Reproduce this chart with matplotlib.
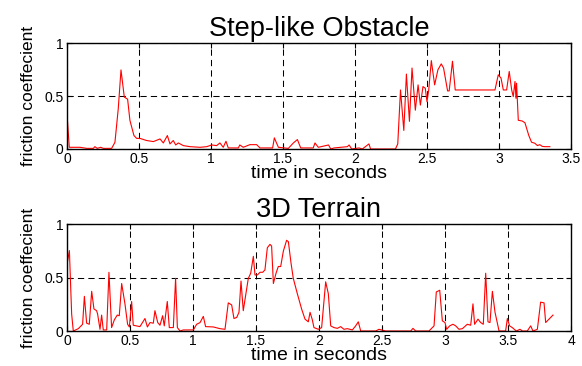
import matplotlib
matplotlib.use("Agg")
import matplotlib.pyplot as plt

# Step-like obstacle run (time in s, friction coefficient)
step_t = [0, 0.016, 0.09, 0.137, 0.183, 0.194, 0.21, 0.234, 0.252, 0.31, 0.333, 0.356,
          0.375, 0.398, 0.421, 0.437, 0.465, 0.484, 0.507, 0.553, 0.60, 0.646, 0.669,
          0.697, 0.715, 0.738, 0.755, 0.773, 0.808, 0.854, 0.924, 0.97, 1.005, 1.039,
          1.062, 1.085, 1.104, 1.12, 1.19, 1.2, 1.224, 1.27, 1.317, 1.34, 1.428, 1.44,
          1.468, 1.537, 1.572, 1.6, 1.623, 1.71, 1.722, 1.745, 1.816, 1.832, 1.855,
          1.947, 1.959, 1.977, 2.028, 2.051, 2.097, 2.108, 2.281, 2.297, 2.316, 2.339,
          2.357, 2.378, 2.396, 2.419, 2.438, 2.454, 2.472, 2.488, 2.5, 2.512, 2.53,
          2.553, 2.576, 2.599, 2.615, 2.643, 2.654, 2.677, 2.696, 2.972, 2.995, 3.014,
          3.03, 3.053, 3.071, 3.088, 3.099, 3.111, 3.118, 3.122, 3.134, 3.161, 3.18,
          3.207, 3.226, 3.249, 3.267, 3.283, 3.3, 3.318, 3.353]
step_mu = [0.333, 0.016, 0.016, 0.006, 0.006, 0.022, 0.006, 0.016, 0.006, 0.006, 0.063, 0.38,
           0.746, 0.49, 0.47, 0.27, 0.127, 0.10, 0.10, 0.08, 0.07, 0.095, 0.057,
           0.127, 0.048, 0.08, 0.038, 0.057, 0.032, 0.022, 0.016, 0.022, 0.038, 0.032,
           0.057, 0.016, 0.073, 0.01, 0.01, 0.038, 0.016, 0.041, 0.041, 0.01, 0.01, 0.105,
           0.016, 0.006, 0.057, 0.089, 0.01, 0.01, 0.057, 0.016, 0.038, 0.0, 0.01,
           0.022, 0.038, 0.0, 0.01, 0.0, 0.048, 0.0, 0.0, 0.048, 0.557, 0.175,
           0.707, 0.261, 0.764, 0.366, 0.605, 0.414, 0.589, 0.573, 0.446, 0.557, 0.834,
           0.605, 0.748, 0.803, 0.764, 0.548, 0.548, 0.828, 0.557, 0.557, 0.70, 0.669,
           0.557, 0.557, 0.732, 0.557, 0.494, 0.637, 0.478, 0.621, 0.271, 0.264, 0.248,
           0.127, 0.064, 0.054, 0.032, 0.041, 0.025, 0.022, 0.022]

# 3D terrain run
terr_t = [0, 0.019, 0.037, 0.05, 0.09, 0.124, 0.138, 0.156, 0.177, 0.196, 0.214, 0.235,
          0.243, 0.262, 0.275, 0.288, 0.315, 0.333, 0.354, 0.376, 0.399, 0.415, 0.434,
          0.46, 0.481, 0.495, 0.513, 0.526, 0.579, 0.619, 0.638, 0.659, 0.685, 0.698,
          0.72, 0.738, 0.759, 0.772, 0.796, 0.812, 0.844, 0.862, 0.876, 0.897, 0.923,
          1.003, 1.029, 1.056, 1.082, 1.1, 1.161, 1.214, 1.254, 1.28, 1.307, 1.325,
          1.347, 1.365, 1.381, 1.399, 1.418, 1.439, 1.458, 1.479, 1.492, 1.511, 1.532,
          1.553, 1.571, 1.59, 1.611, 1.624, 1.638, 1.659, 1.677, 1.696, 1.717, 1.743,
          1.757, 1.778, 1.796, 1.828, 1.862, 1.889, 1.915, 1.929, 1.947, 1.96, 1.995,
          2.021, 2.053, 2.074, 2.093, 2.119, 2.146, 2.172, 2.198, 2.225, 2.265, 2.291,
          2.312, 2.331, 2.45, 2.476, 2.529, 2.728, 2.746, 2.767, 2.873, 2.913, 2.931,
          2.958, 2.979, 3.0, 3.013, 3.037, 3.063, 3.085, 3.111, 3.138, 3.177, 3.204,
          3.222, 3.235, 3.262, 3.283, 3.304, 3.323, 3.341, 3.357, 3.376, 3.397, 3.429,
          3.481, 3.495, 3.513, 3.534, 3.566, 3.595, 3.614, 3.653, 3.68, 3.698, 3.733,
          3.759, 3.786, 3.799, 3.825, 3.857]
terr_mu = [0.62, 0.752, 0.159, 0.0, 0.022, 0.063, 0.324, 0.073, 0.063, 0.371, 0.206, 0.19,
           0.159, 0.016, 0.149, 0.01, 0.01, 0.549, 0.032, 0.105, 0.149, 0.143, 0.444,
           0.254, 0.063, 0.038, 0.276, 0.054, 0.041, 0.117, 0.038, 0.079, 0.073, 0.19,
           0.079, 0.054, 0.143, 0.048, 0.276, 0.032, 0.032, 0.492, 0.032, 0.0, 0.01,
           0.01, 0.063, 0.079, 0.137, 0.041, 0.038, 0.022, 0.016, 0.263, 0.244, 0.117,
           0.127, 0.175, 0.467, 0.19, 0.333, 0.492, 0.54, 0.698, 0.524, 0.524, 0.549,
           0.549, 0.571, 0.778, 0.81, 0.794, 0.444, 0.54, 0.603, 0.603, 0.746, 0.848,
           0.835, 0.635, 0.492, 0.349, 0.206, 0.111, 0.086, 0.175, 0.105, 0.032, 0.016,
           0.032, 0.46, 0.349, 0.048, 0.032, 0.025, 0.041, 0.016, 0.022, 0.01, 0.048,
           0.086, 0.0, 0.0, 0.016, 0.0, 0.0, 0.025, 0.0, 0.0, 0.048, 0.365,
           0.381, 0.095, 0.079, 0.016, 0.048, 0.063, 0.048, 0.016, 0.022, 0.063, 0.054,
           0.254, 0.063, 0.111, 0.079, 0.063, 0.54, 0.086, 0.079, 0.371, 0.175, 0.0,
           0.0, 0.117, 0.048, 0.032, 0.0, 0.016, 0.0, 0.0, 0.048, 0.0, 0.016,
           0.27, 0.263, 0.079, 0.111, 0.149]

plt.rcParams['font.family'] = ['Liberation Sans', 'DejaVu Sans']

fig = plt.figure(figsize=(5.82, 3.66), dpi=100)
ax1 = fig.add_axes([0.1151, 0.5929, 0.866, 0.2896])
ax2 = fig.add_axes([0.1151, 0.0956, 0.866, 0.2923])

panels = [(ax1, step_t, step_mu, 'Step-like Obstacle', 3.5),
          (ax2, terr_t, terr_mu, '3D Terrain', 4.0)]

for ax, t, mu, title, tmax in panels:
    ax.plot(t, mu, color='red', lw=0.8)
    ax.set_xlim(0, tmax)
    ax.set_ylim(0, 1)
    xt = [i * 0.5 for i in range(int(tmax / 0.5) + 1)]
    ax.set_xticks(xt)
    ax.set_xticklabels(['%g' % v for v in xt])
    ax.set_yticks([0, 0.5, 1])
    ax.set_yticklabels(['0', '0.5', '1'])
    ax.grid(True, color='black', linestyle=(0, (6, 4)), linewidth=0.75)
    ax.tick_params(direction='in', top=True, right=True, length=3.5, width=0.8,
                   labelsize=10, pad=2.5)
    for s in ax.spines.values():
        s.set_linewidth(1.0)
    ax.set_title(title, fontsize=19.5, pad=5)
    ax.set_xlabel('time in seconds', fontsize=14, labelpad=-1)
    ax.set_ylabel('friction coeffecient', fontsize=12.5, labelpad=6)

fig.savefig('out.png', dpi=100)
